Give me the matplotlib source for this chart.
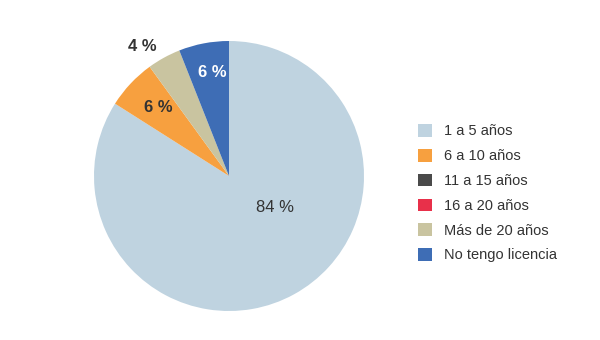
import matplotlib.pyplot as plt
from matplotlib.patches import Patch

categories = ['1 a 5 años', '6 a 10 años', '11 a 15 años', '16 a 20 años',
              'Más de 20 años', 'No tengo licencia']
values = [84, 6, 0, 0, 4, 6]
colors = ['#bfd3e0', '#f7a03f', '#4a4a4a', '#e8304a', '#c9c4a0', '#3e6db5']

plt.rcParams['font.family'] = ['Liberation Sans', 'DejaVu Sans']

fig = plt.figure(figsize=(6, 3.4), dpi=100)
# pie centre ~ (229, 176) px, radius ~135 px
ax = fig.add_axes([94 / 600, 29 / 340, 270 / 600, 270 / 340])
ax.pie(values, colors=colors, startangle=90, counterclock=False, radius=1)
ax.set_xlim(-1, 1)
ax.set_ylim(-1, 1)
ax.set_aspect('equal')
ax.axis('off')

# percentage labels
ax.text(0.34, -0.237, '84 %', ha='center', va='center', fontsize=12, color='#333333')
ax.text(-0.526, 0.504, '6 %', ha='center', va='center', fontsize=12, color='#333333', fontweight='bold')
ax.text(-0.644, 0.956, '4 %', ha='center', va='center', fontsize=12, color='#333333', fontweight='bold')
ax.text(-0.126, 0.77, '6 %', ha='center', va='center', fontsize=12, color='white', fontweight='bold')

handles = [Patch(facecolor=c, edgecolor='none') for c in colors]
fig.legend(handles, categories, loc='upper left', bbox_to_anchor=(405 / 600, 1 - 111 / 340),
           frameon=False, fontsize=10.5, labelcolor='#333333', handlelength=0.95, handleheight=0.95,
           handletextpad=0.85, labelspacing=0.72)

fig.savefig('out.png', dpi=100)
